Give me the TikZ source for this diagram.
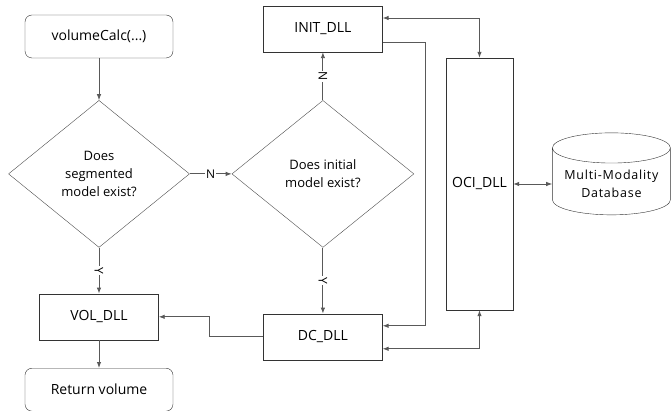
\documentclass[tikz,border=0pt]{standalone}
\usepackage{fontspec}
\setmainfont{Open Sans}
\usetikzlibrary{arrows.meta,positioning,shapes.geometric}

\begin{document}
\begin{tikzpicture}[
  x=1pt, y=1pt,
  every node/.style = {font=\fontsize{14}{16}\selectfont},
  term/.style   = {draw=black!80, rounded corners=7pt, minimum width=148pt,
                   minimum height=43pt},
  dll/.style    = {draw=black!80, minimum width=119pt, minimum height=46pt},
  ask/.style    = {draw=black!70, diamond, align=center, inner sep=0pt,
                   minimum width=181pt, minimum height=147pt,
                   font=\fontsize{13}{18}\selectfont},
  store/.style  = {draw=black!80, cylinder, shape border rotate=90, aspect=0.3,
                   align=center, minimum width=118pt, minimum height=82pt,
                   font=\fontsize{12.5}{18}\selectfont\addfontfeatures{LetterSpace=6}},
  arr/.style    = {-{Latex[length=6pt,width=4.5pt]}, draw=black!65, line width=0.9pt},
  darr/.style   = {{Latex[length=6pt,width=4.5pt]}-{Latex[length=6pt,width=4.5pt]},
                   draw=black!65, line width=0.9pt},
  yn/.style     = {fill=white, inner sep=1pt, font=\fontsize{12}{14}\selectfont}
]
\useasboundingbox (0,0) rectangle (671,-411);

%% ---- left column ---------------------------------------------------
\node[term] (calc) at (99,-36.5) {volumeCalc(...)};
\node[ask, below=42pt of calc] (seg) {Does\\segmented\\model exist?};
\node[dll, below=46pt of seg] (vol) {VOL\_DLL};
\node[term, below=28pt of vol] (ret) {Return volume};

%% ---- middle column -------------------------------------------------
\node[ask, right=42pt of seg, minimum width=182pt] (init) {Does initial\\model exist?};
\node[dll, above=48pt of init] (initdll) {INIT\_DLL};
\node[dll, below=66pt of init] (dcdll) {DC\_DLL};

%% ---- oracle side ---------------------------------------------------
\node[draw=black!80, minimum width=67pt, minimum height=252pt] (oci) at (479.5,-184) {OCI\_DLL};
\node[store, right=39pt of oci] (db) {Multi-Modality\\Database};

\draw[arr] (calc) -- (seg);
\draw[arr] (seg) -- node[yn] {N} (init);
\draw[arr] (init) -- node[yn, rotate=-90] {N} (initdll);
\draw[arr] (init) -- node[yn, rotate=-90] {Y} (dcdll);
\draw[arr] (seg) -- node[yn, rotate=-90] {Y} (vol);
\draw[arr] (vol) -- (ret);

\draw[arr] (dcdll.west) -- ++(-54pt,0) |- (vol.east);
\draw[arr] ([yshift=-13pt]initdll.east) -- ++(43pt,0) |- ([yshift=11pt]dcdll.east);
\draw[darr] ([yshift=11pt]initdll.east) -| (oci.north);
\draw[darr] ([yshift=-12pt]dcdll.east) -| (oci.south);
\draw[darr] (oci.east) -- (oci.east -| db.west);
\end{tikzpicture}
\end{document}
